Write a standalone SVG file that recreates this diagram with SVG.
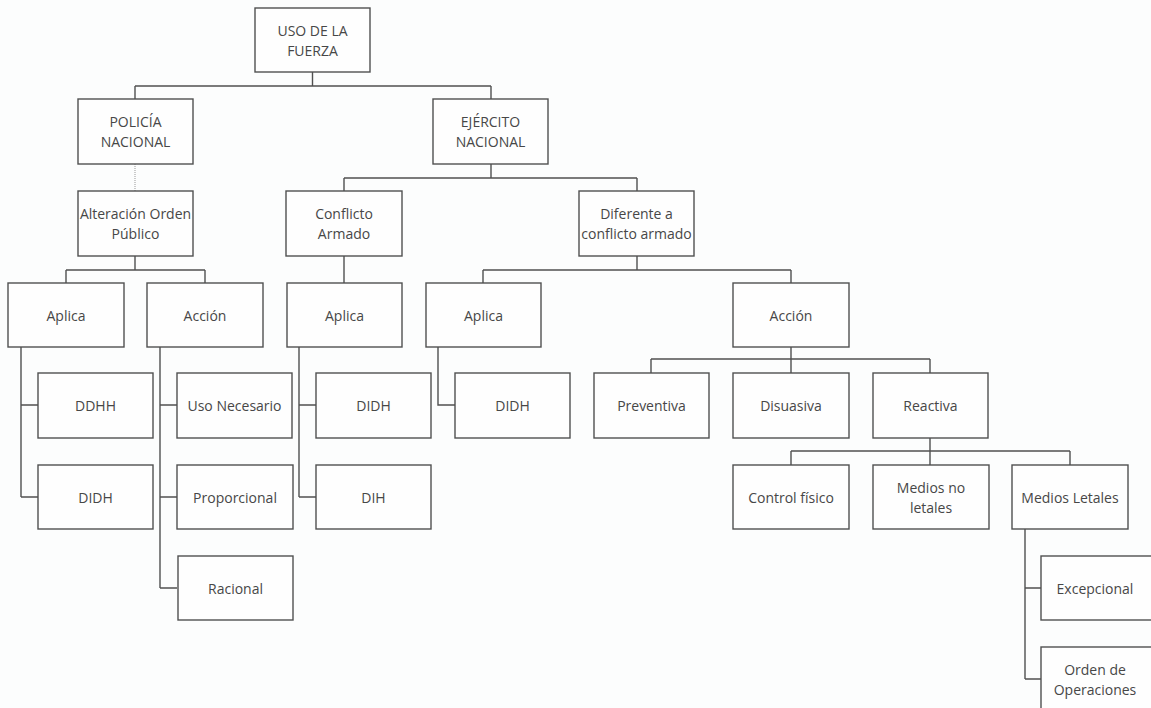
<svg xmlns="http://www.w3.org/2000/svg" width="1151" height="708" viewBox="0 0 1151 708">
<style>
.b{fill:#fefefe;stroke:#505050;stroke-width:1.4}
.t{font-family:"Open Sans","Liberation Sans",sans-serif;font-size:14px;fill:#474747;text-anchor:middle;dominant-baseline:central}
.c{fill:none;stroke:#505050;stroke-width:1.4}
.d{fill:none;stroke:#999;stroke-width:1;stroke-dasharray:1 1}
</style>
<rect width="1151" height="708" fill="#fcfdfd"/>
<g id="connectors">
<path class="c" d="M312.5 72V86M135 86H491M135 86V99M491 86V99"/>
<path class="d" d="M135 164V191"/>
<path class="c" d="M135 256V270M66 270H205M66 270V283M205 270V283"/>
<path class="c" d="M491 164V178M344 178H637M344 178V191M637 178V191"/>
<path class="c" d="M344 256V283"/>
<path class="c" d="M637 256V270M483 270H791M483 270V283M791 270V283"/>
<path class="c" d="M21 347V497M21 405H38M21 497H38"/>
<path class="c" d="M160 347V588M160 405H177M160 497H177M160 588H177"/>
<path class="c" d="M299 347V497M299 405H316M299 497H316"/>
<path class="c" d="M438 347V405H455"/>
<path class="c" d="M791 347V373M651 359H930M651 359V373M930 359V373"/>
<path class="c" d="M930 437V465M791 451H1070M791 451V465M1070 451V465"/>
<path class="c" d="M1025 529V679M1025 588H1041M1025 679H1041"/>
</g>
<g id="uso"><rect class="b" x="255" y="8" width="115" height="64"/><text class="t" x="312.5" y="30">USO DE LA</text><text class="t" x="312.5" y="50">FUERZA</text></g>
<g id="policia"><rect class="b" x="78" y="99" width="115" height="65"/><text class="t" x="135.5" y="121.5">POLICÍA</text><text class="t" x="135.5" y="141.5">NACIONAL</text></g>
<g id="ejercito"><rect class="b" x="433" y="99" width="115" height="65"/><text class="t" x="490.5" y="121.5">EJÉRCITO</text><text class="t" x="490.5" y="141.5">NACIONAL</text></g>
<g id="alteracion"><rect class="b" x="78" y="191" width="115" height="65"/><text class="t" x="135.5" y="213.5">Alteración Orden</text><text class="t" x="135.5" y="233.5">Público</text></g>
<g id="conflicto"><rect class="b" x="286" y="191" width="116" height="65"/><text class="t" x="344" y="213.5">Conflicto</text><text class="t" x="344" y="233.5">Armado</text></g>
<g id="diferente"><rect class="b" x="579" y="191" width="115" height="65"/><text class="t" x="636.5" y="213.5">Diferente a</text><text class="t" x="636.5" y="233.5">conflicto armado</text></g>
<g id="aplica1"><rect class="b" x="8" y="283" width="116" height="64"/><text class="t" x="66" y="315">Aplica</text></g>
<g id="accion1"><rect class="b" x="147" y="283" width="116" height="64"/><text class="t" x="205" y="315">Acción</text></g>
<g id="aplica2"><rect class="b" x="287" y="283" width="115" height="64"/><text class="t" x="344.5" y="315">Aplica</text></g>
<g id="aplica3"><rect class="b" x="426" y="283" width="115" height="64"/><text class="t" x="483.5" y="315">Aplica</text></g>
<g id="accion2"><rect class="b" x="733" y="283" width="116" height="64"/><text class="t" x="791" y="315">Acción</text></g>
<g id="ddhh"><rect class="b" x="38" y="373" width="115" height="65"/><text class="t" x="95.5" y="405.5">DDHH</text></g>
<g id="uso-necesario"><rect class="b" x="177" y="373" width="115" height="65"/><text class="t" x="234.5" y="405.5">Uso Necesario</text></g>
<g id="didh2"><rect class="b" x="316" y="373" width="115" height="65"/><text class="t" x="373.5" y="405.5">DIDH</text></g>
<g id="didh3"><rect class="b" x="455" y="373" width="115" height="65"/><text class="t" x="512.5" y="405.5">DIDH</text></g>
<g id="preventiva"><rect class="b" x="594" y="373" width="115" height="65"/><text class="t" x="651.5" y="405.5">Preventiva</text></g>
<g id="disuasiva"><rect class="b" x="733" y="373" width="116" height="65"/><text class="t" x="791" y="405.5">Disuasiva</text></g>
<g id="reactiva"><rect class="b" x="873" y="373" width="115" height="65"/><text class="t" x="930.5" y="405.5">Reactiva</text></g>
<g id="didh1"><rect class="b" x="38" y="465" width="115" height="64"/><text class="t" x="95.5" y="497">DIDH</text></g>
<g id="proporcional"><rect class="b" x="177" y="465" width="116" height="64"/><text class="t" x="235" y="497">Proporcional</text></g>
<g id="dih"><rect class="b" x="316" y="465" width="115" height="64"/><text class="t" x="373.5" y="497">DIH</text></g>
<g id="control"><rect class="b" x="733" y="465" width="116" height="64"/><text class="t" x="791" y="497">Control físico</text></g>
<g id="medios-no-letales"><rect class="b" x="873" y="465" width="116" height="64"/><text class="t" x="931" y="487">Medios no</text><text class="t" x="931" y="507">letales</text></g>
<g id="medios-letales"><rect class="b" x="1012" y="465" width="116" height="64"/><text class="t" x="1070" y="497">Medios Letales</text></g>
<g id="racional"><rect class="b" x="178" y="556" width="115" height="64"/><text class="t" x="235.5" y="588">Racional</text></g>
<g id="excepcional"><rect class="b" x="1041" y="556" width="115" height="64"/><text class="t" x="1095" y="588">Excepcional</text></g>
<g id="orden"><rect class="b" x="1041" y="647" width="115" height="64"/><text class="t" x="1095" y="669">Orden de</text><text class="t" x="1095" y="689">Operaciones</text></g>
</svg>
